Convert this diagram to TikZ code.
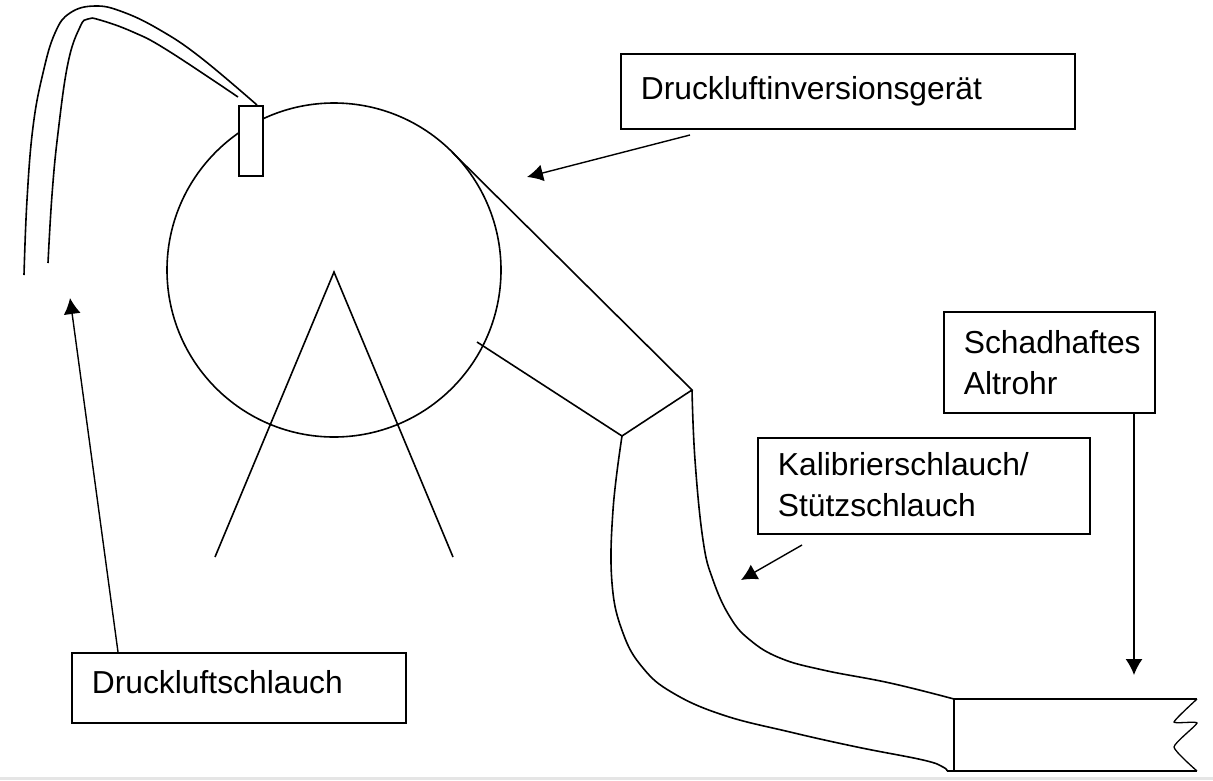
\documentclass[tikz,border=0pt]{standalone}
\usepackage{fontspec}
\setmainfont{Liberation Sans}
\usetikzlibrary{arrows.meta}
\tikzset{
    textbox/.style={draw, line width=1.7pt, fill=white, anchor=north west, align=left, inner xsep=20pt, inner ysep=0pt,
        font=\fontsize{31.8}{41}\selectfont},
    outline/.style={line width=1.6pt},
    pointer/.style={-{Latex[length=16pt, width=17pt]}, line width=1.4pt},
}

\begin{document}
\begin{tikzpicture}[x=1pt, y=-1pt]
    \useasboundingbox (0, 0) rectangle (1213, 780);
    \fill[gray!20] (0, 777) rectangle (1213, 780);
    % Inversion device
    \draw[outline] (334, 270) circle (167);
    \draw[outline] (215, 557) -- (334, 272) -- (453, 557);
    \draw[outline] (452, 152) -- (692, 390) -- (622, 436) -- (477, 342);
    % Air hose
    \draw[outline] plot[smooth, tension=0.7] coordinates {(24, 275) (27, 200) (33, 127) (43, 73) (55, 33) (70, 13) (95, 6) (123, 12) (160, 30) (200, 57) (257, 105)};
    \draw[outline] plot[smooth, tension=0.7] coordinates {(48, 263) (52, 195) (58, 133) (68, 63) (80, 27) (88, 19) (100, 20) (133, 32) (167, 50) (238, 97)};
    \node[draw, line width=1.7pt, fill=white, minimum width=24pt, minimum height=70pt, inner sep=0pt, anchor=north west] (nozzle) at (238, 105) {};
    % Calibration hose
    \draw[outline] plot[smooth, tension=0.7] coordinates {(692, 390) (695, 460) (703, 540) (713, 580) (730, 617) (750, 640) (780, 658) (823, 670) (890, 683) (954, 699)};
    \draw[outline] plot[smooth, tension=0.7] coordinates {(622, 436) (613, 510) (612, 583) (623, 633) (643, 668) (673, 693) (723, 715) (790, 732) (857, 747) (923, 760) (943, 767) (947, 771)};
    % Old pipe
    \draw[outline] (1197, 699) -- (954, 699) -- (954, 771);
    \draw[outline] (947, 771) -- (1197, 771);
    \draw[line width=1.3pt] plot[smooth, tension=0.3] coordinates {(1197, 699) (1174, 722) (1197, 723) (1174, 747) (1197, 771)};
    % Labels
    \node[textbox, minimum width=454pt, minimum height=75pt, text width=414pt] (inversion) at (620, 53) {\raisebox{4pt}{Druckluftinversionsgerät}};
    \node[textbox, minimum width=211pt, minimum height=101pt, text width=171pt] (altrohr) at (943, 311) {Schadhaftes\\Altrohr};
    \node[textbox, minimum width=332pt, minimum height=96pt, text width=292pt] (kalibrier) at (757, 437) {\raisebox{2pt}{Kalibrierschlauch/}\\\raisebox{2pt}{Stützschlauch}};
    \node[textbox, minimum width=334pt, minimum height=70pt, text width=294pt] (luftschlauch) at (71, 652) {\raisebox{11pt}{Druckluftschlauch}};
    % Arrows
    \coordinate (inversiontip) at (527, 177);
    \coordinate (altrohrtip) at (1134, 675);
    \coordinate (kalibrierstart) at (802, 545);
    \coordinate (kalibriertip) at (741, 580);
    \coordinate (luftschlauchtip) at (70, 298);
    \draw[pointer] (690, 135) -- (inversiontip);
    \draw[pointer] (altrohr.south -| altrohrtip) -- (altrohrtip);
    \draw[pointer] (kalibrierstart) -- (kalibriertip);
    \draw[pointer] (118, 652) -- (luftschlauchtip);
\end{tikzpicture}
\end{document}
